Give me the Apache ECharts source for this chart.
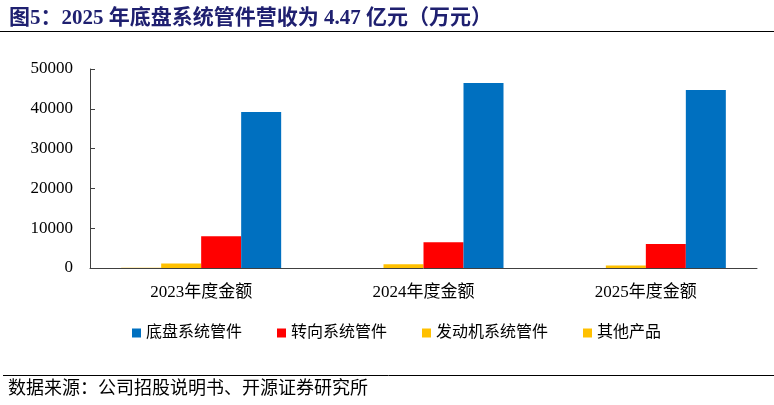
<!DOCTYPE html>
<html>
<head>
<meta charset="utf-8">
<script src="https://cdn.jsdelivr.net/npm/echarts@6/dist/echarts.min.js"></script>
<style>
  html, body { margin: 0; padding: 0; background: #fff; }
  #chart { width: 774px; height: 405px; }
</style>
</head>
<body>
<div id="chart"></div>
<script>
// 数据（万元）
const categories = ['2023年度金额', '2024年度金额', '2025年度金额'];
const chassis = [39200, 46500, 44700];   // 底盘系统管件
const steering = [7950, 6500, 6000];     // 转向系统管件
const engine = [1150, 950, 600];         // 发动机系统管件
const others = [40, 30, 20];             // 其他产品
const yTicks = [0, 10000, 20000, 30000, 40000, 50000];

const FONT = '"Liberation Serif", "Noto Sans CJK SC", serif';

const chart = echarts.init(document.getElementById('chart'));

const option = {
  animation: false,
  title: {
    text: '图5：2025 年底盘系统管件营收为 4.47 亿元（万元）',
    left: 4,
    top: 3,
    textStyle: {
      color: '#1F2070',
      fontSize: 21,
      fontWeight: 'bold',
      fontFamily: FONT
    }
  },
  graphic: [
    { type: 'line', shape: { x1: 0, y1: 31.5, x2: 774, y2: 31.5 }, style: { stroke: '#000', lineWidth: 1 } },
    { type: 'line', shape: { x1: 3, y1: 375.5, x2: 774, y2: 375.5 }, style: { stroke: '#000', lineWidth: 1 } },
    {
      type: 'text', left: 8, top: 380,
      style: { text: '数据来源：公司招股说明书、开源证券研究所', fill: '#000', font: '18px ' + FONT }
    }
  ],
  legend: {
    data: ['底盘系统管件', '转向系统管件', '发动机系统管件', '其他产品'],
    left: 127,
    top: 320,
    itemWidth: 9,
    itemHeight: 9,
    itemGap: 35,
    icon: 'rect',
    textStyle: { color: '#000', fontSize: 16, fontFamily: FONT }
  },
  grid: { left: 90, right: 17, top: 69, bottom: 137, containLabel: false },
  xAxis: {
    type: 'category',
    data: categories,
    axisLine: { lineStyle: { color: '#404040', width: 1 } },
    axisTick: { inside: true, length: 5, lineStyle: { color: '#404040' } },
    axisLabel: { color: '#000', fontSize: 17, fontFamily: FONT, margin: 16 }
  },
  yAxis: {
    type: 'value',
    min: yTicks[0],
    max: yTicks[yTicks.length - 1],
    interval: 10000,
    splitLine: { show: false },
    axisLine: { show: true, lineStyle: { color: '#404040', width: 1 } },
    axisTick: { show: true, inside: true, length: 5, lineStyle: { color: '#404040' } },
    axisLabel: { color: '#000', fontSize: 17, fontFamily: FONT, margin: 17, formatter: v => String(v) }
  },
  series: [
    { name: '其他产品', type: 'bar', data: others, barWidth: 40, barGap: '0%', itemStyle: { color: '#FFC000' } },
    { name: '发动机系统管件', type: 'bar', data: engine, barWidth: 40, barGap: '0%', itemStyle: { color: '#FFC000' } },
    { name: '转向系统管件', type: 'bar', data: steering, barWidth: 40, barGap: '0%', itemStyle: { color: '#FF0000' } },
    { name: '底盘系统管件', type: 'bar', data: chassis, barWidth: 40, barGap: '0%', itemStyle: { color: '#0070C0' } }
  ]
};

chart.setOption(option);
</script>
</body>
</html>
